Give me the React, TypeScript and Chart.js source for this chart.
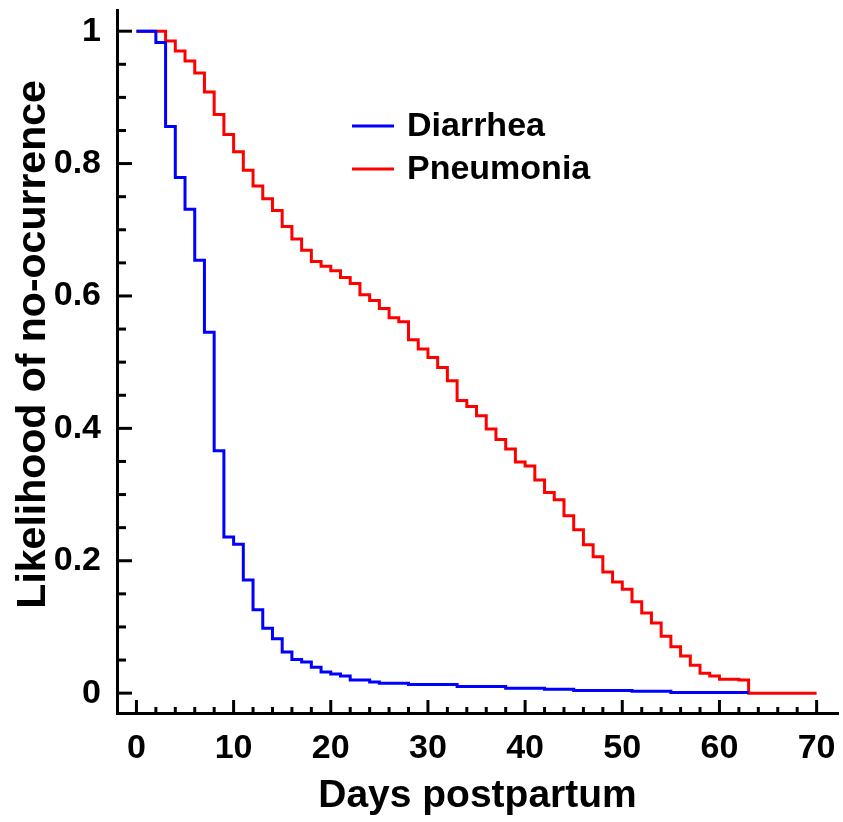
import React, { useEffect, useRef } from 'react';
import { Chart, registerables } from 'chart.js';

Chart.register(...registerables);

// ---------- data ----------
const diarrheaDays = [0, 2, 3, 4, 5, 6, 7, 8, 9, 10, 11, 12, 13, 14, 15, 16, 17, 18, 19, 20, 21, 22, 24, 25, 28, 33, 38, 42, 45, 51, 55, 63];
const diarrheaValues = [1, 0.983, 0.856, 0.779, 0.731, 0.654, 0.545, 0.366, 0.236, 0.225, 0.171, 0.126, 0.098, 0.082, 0.062, 0.051, 0.047, 0.039, 0.032, 0.029, 0.026, 0.02, 0.017, 0.015, 0.013, 0.01, 0.0075, 0.006, 0.004, 0.003, 0.001, 0.001];

const pneumoniaDays = [0, 3, 4, 5, 6, 7, 8, 9, 10, 11, 12, 13, 14, 15, 16, 17, 18, 19, 20, 21, 22, 23, 24, 25, 26, 27, 28, 29, 30, 31, 32, 33, 34, 35, 36, 37, 38, 39, 40, 41, 42, 43, 44, 45, 46, 47, 48, 49, 50, 51, 52, 53, 54, 55, 56, 57, 58, 59, 60, 62, 63, 70];
const pneumoniaValues = [1, 0.985, 0.97, 0.955, 0.937, 0.908, 0.874, 0.844, 0.818, 0.79, 0.766, 0.747, 0.729, 0.705, 0.686, 0.669, 0.652, 0.645, 0.638, 0.628, 0.619, 0.602, 0.593, 0.581, 0.567, 0.561, 0.534, 0.52, 0.507, 0.492, 0.472, 0.442, 0.433, 0.419, 0.399, 0.383, 0.369, 0.349, 0.343, 0.322, 0.303, 0.292, 0.268, 0.247, 0.224, 0.206, 0.183, 0.168, 0.157, 0.138, 0.121, 0.106, 0.086, 0.07, 0.056, 0.042, 0.03, 0.026, 0.021, 0.02, 0, 0];

const seriesLabels = ['Diarrhea', 'Pneumonia'];
const seriesColors = ['#0000FF', '#FF0000'];
const xAxisTitle = 'Days postpartum';
const yAxisTitle = 'Likelihood of no-ocurrence';
const xMinorStep = 2;
const yMinorStep = 0.05;

const FONT = "'Liberation Sans', Arial, Helvetica, sans-serif";

const innerTicksPlugin = {
  id: 'innerTicks',
  afterDraw(chart: any) {
    const { ctx, chartArea, scales } = chart;
    const xs = scales.x;
    const ys = scales.y;
    ctx.save();
    ctx.strokeStyle = '#000';
    ctx.lineWidth = 3;
    ctx.lineCap = 'butt';
    const xMajor = xs.ticks.map((t: any) => t.value);
    for (let v = xMajor[0]; v <= xMajor[xMajor.length - 1] + 1e-9; v += xMinorStep) {
      const px = xs.getPixelForValue(v);
      const isMajor = xMajor.some((m: number) => Math.abs(m - v) < 1e-6);
      const len = isMajor ? 13 : 6;
      ctx.beginPath();
      ctx.moveTo(px, chartArea.bottom);
      ctx.lineTo(px, chartArea.bottom - len);
      ctx.stroke();
    }
    const yMajor = ys.ticks.map((t: any) => t.value);
    const nY = Math.round((yMajor[yMajor.length - 1] - yMajor[0]) / yMinorStep);
    for (let i = 0; i <= nY; i++) {
      const v = yMajor[0] + i * yMinorStep;
      const py = ys.getPixelForValue(v);
      const isMajor = yMajor.some((m: number) => Math.abs(m - v) < 1e-6);
      const len = isMajor ? 15 : 9;
      ctx.beginPath();
      ctx.moveTo(chartArea.left, py);
      ctx.lineTo(chartArea.left + len, py);
      ctx.stroke();
    }
    ctx.restore();
  },
};

const customLegendPlugin = {
  id: 'customLegend',
  afterDraw(chart: any) {
    const { ctx } = chart;
    ctx.save();
    chart.data.datasets.forEach((ds: any, i: number) => {
      const y = 126 + i * 43;
      ctx.strokeStyle = ds.borderColor;
      ctx.lineWidth = 3;
      ctx.beginPath();
      ctx.moveTo(352, y);
      ctx.lineTo(394, y);
      ctx.stroke();
      ctx.fillStyle = '#000';
      ctx.font = `bold 34px ${FONT}`;
      ctx.textAlign = 'left';
      ctx.textBaseline = 'middle';
      ctx.fillText(ds.label, 407, y + 1);
    });
    ctx.restore();
  },
};

const zeroPadding = (scale: any) => {
  scale.paddingTop = 0;
  scale.paddingBottom = 0;
  scale.paddingLeft = 0;
  scale.paddingRight = 0;
};

export default function App() {
  const canvasRef = useRef<HTMLCanvasElement | null>(null);

  useEffect(() => {
    if (!canvasRef.current) return;
    const toPoints = (xs: number[], ys: number[]) => xs.map((x, i) => ({ x, y: ys[i] }));
    const chart = new Chart(canvasRef.current, {
      type: 'line',
      data: {
        datasets: [
          {
            label: seriesLabels[0],
            data: toPoints(diarrheaDays, diarrheaValues),
            borderColor: seriesColors[0],
            backgroundColor: seriesColors[0],
            borderWidth: 3,
            pointRadius: 0,
            stepped: 'before',
            fill: false,
          },
          {
            label: seriesLabels[1],
            data: toPoints(pneumoniaDays, pneumoniaValues),
            borderColor: seriesColors[1],
            backgroundColor: seriesColors[1],
            borderWidth: 3,
            pointRadius: 0,
            stepped: 'before',
            fill: false,
          },
        ],
      },
      options: {
        responsive: false,
        animation: false,
        devicePixelRatio: 1,
        layout: { padding: { top: 10, right: 5, left: 0, bottom: 0 } },
        plugins: {
          legend: { display: false },
          tooltip: { enabled: false },
        },
        scales: {
          x: {
            type: 'linear',
            min: -2,
            max: 72.2,
            grid: { display: false, drawTicks: false, drawOnChartArea: false },
            border: { display: true, color: '#000', width: 3 },
            ticks: {
              stepSize: 10,
              includeBounds: false,
              autoSkip: false,
              maxRotation: 0,
              padding: 15,
              color: '#000',
              font: { family: FONT, size: 34, weight: 'bold' },
            },
            title: {
              display: true,
              text: xAxisTitle,
              color: '#000',
              padding: { top: 0, bottom: 2 },
              font: { family: FONT, size: 39, weight: 'bold' },
            },
            afterFit: (scale: any) => {
              scale.height = 109;
              zeroPadding(scale);
            },
          },
          y: {
            type: 'linear',
            min: -0.03,
            max: 1.032,
            grid: { display: false, drawTicks: false, drawOnChartArea: false },
            border: { display: true, color: '#000', width: 3 },
            ticks: {
              stepSize: 0.2,
              includeBounds: false,
              padding: 16,
              color: '#000',
              font: { family: FONT, size: 34, weight: 'bold' },
              callback: (v: any) => String(Math.round(Number(v) * 10) / 10),
            },
            title: {
              display: true,
              text: '\u00A0\u00A0\u00A0' + yAxisTitle,
              color: '#000',
              padding: { top: 9, bottom: 0 },
              font: { family: FONT, size: 41, weight: 'bold' },
            },
            afterFit: (scale: any) => {
              scale.width = 117;
              zeroPadding(scale);
            },
          },
        },
      },
      plugins: [innerTicksPlugin, customLegendPlugin],
    } as any);
    return () => chart.destroy();
  }, []);

  return (
    <div style={{ position: 'fixed', left: 0, top: 0, width: 843, height: 822, background: '#fff' }}>
      <canvas ref={canvasRef} width={843} height={822} style={{ display: 'block' }} />
    </div>
  );
}
